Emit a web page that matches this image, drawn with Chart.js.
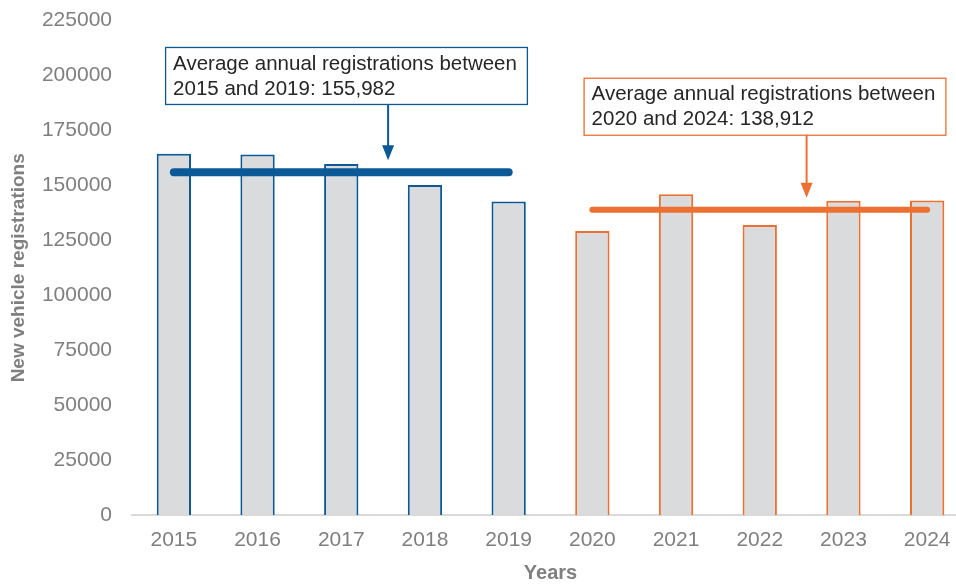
<!DOCTYPE html>
<html lang="en">
<head>
<meta charset="UTF-8">
<title>New vehicle registrations</title>
<style>
html, body { margin:0; padding:0; background:#fff; overflow:hidden; }
#wrap { width:970px; height:597px; margin-top:-12px; }
</style>
</head>
<body>
<div id="wrap"><canvas id="chart"></canvas></div>

<script src="https://cdn.jsdelivr.net/npm/chart.js"></script>
<script>
// data
const years = ['2015','2016','2017','2018','2019','2020','2021','2022','2023','2024'];
const registrations = [164400, 164100, 159700, 150200, 142700, 129300, 146000, 132000, 143000, 143100];
const avgFirst = [155982, 155982, 155982, 155982, 155982, null, null, null, null, null];
const avgSecond = [null, null, null, null, null, 138912, 138912, 138912, 138912, 138912];
const yTicks = [0, 25000, 50000, 75000, 100000, 125000, 150000, 175000, 200000, 225000];
const notes = [
  { lines: ['Average annual registrations between', '2015 and 2019: 155,982'], from: 2, to: 3, top: 213000, avg: 155982 },
  { lines: ['Average annual registrations between', '2020 and 2024: 138,912'], from: 7, to: 8, top: 199000, avg: 138912 }
];

const BLUE = '#0b5a97';
const ORANGE = '#ec7031';
const GREY = '#7f7f7f';
const FONT = '"Liberation Sans", Arial, sans-serif';

// call-out boxes with arrows
const callouts = {
  id: 'callouts',
  afterDatasetsDraw(chart) {
    const ctx = chart.ctx, x = chart.scales.x, y = chart.scales.y;
    notes.forEach((n, k) => {
      const col = k === 0 ? BLUE : ORANGE;
      const ax = (x.getPixelForValue(n.from) + x.getPixelForValue(n.to)) / 2 + 5;
      const top = y.getPixelForValue(n.top);
      ctx.save();
      ctx.font = '20.5px ' + FONT;
      const w = Math.max(...n.lines.map(l => ctx.measureText(l).width)) + 18;
      const h = 57;
      const left = ax - 223;
      ctx.fillStyle = '#fff';
      ctx.fillRect(left, top, w, h);
      ctx.strokeStyle = col;
      ctx.lineWidth = 1.3;
      ctx.strokeRect(left + 0.5, top + 0.5, w, h);
      ctx.fillStyle = '#262626';
      ctx.textBaseline = 'middle';
      ctx.fillText(n.lines[0], left + 8, top + 17);
      ctx.fillText(n.lines[1], left + 8, top + 42);
      // arrow
      const tip = y.getPixelForValue(n.avg) - 12;
      ctx.strokeStyle = col;
      ctx.fillStyle = col;
      ctx.lineWidth = 2;
      ctx.beginPath();
      ctx.moveTo(ax, top + h);
      ctx.lineTo(ax, tip - 12);
      ctx.stroke();
      ctx.beginPath();
      ctx.moveTo(ax - 6, tip - 15);
      ctx.lineTo(ax + 6, tip - 15);
      ctx.lineTo(ax, tip);
      ctx.closePath();
      ctx.fill();
      ctx.restore();
    });
  }
};

new Chart(document.getElementById('chart'), {
  type: 'bar',
  data: {
    labels: years,
    datasets: [
      {
        type: 'line', data: avgFirst, borderColor: BLUE, borderWidth: 8,
        borderCapStyle: 'round', pointRadius: 0, order: 1, spanGaps: false
      },
      {
        type: 'line', data: avgSecond, borderColor: ORANGE, borderWidth: 6,
        borderCapStyle: 'round', pointRadius: 0, order: 1, spanGaps: false
      },
      {
        data: registrations,
        backgroundColor: '#dadbdd',
        borderColor: years.map((_, i) => i < 5 ? BLUE : ORANGE),
        borderWidth: 2,
        barPercentage: 0.41,
        categoryPercentage: 1,
        order: 2
      }
    ]
  },
  plugins: [callouts],
  options: {
    responsive: true,
    maintainAspectRatio: false,
    animation: false,
    layout: { padding: { top: 5, right: 1, left: 0, bottom: 0 } },
    plugins: { legend: { display: false }, tooltip: { enabled: false } },
    scales: {
      x: {
        afterFit: s => { s.height = 70; },
        grid: { display: false, drawTicks: false },
        border: { color: '#d9d9d9', width: 2 },
        ticks: { color: GREY, font: { family: FONT, size: 21 }, padding: 13 },
        title: { display: true, text: 'Years', color: GREY, font: { family: FONT, size: 20, weight: 'bold' }, padding: { top: 0, bottom: 0 } }
      },
      y: {
        min: 0, max: 225000,
        afterBuildTicks: s => { s.ticks = yTicks.map(v => ({ value: v })); },
        afterFit: s => { s.width = 132; },
        grid: { display: false, drawTicks: false },
        border: { display: false },
        ticks: { color: GREY, font: { family: FONT, size: 21 }, padding: 20, callback: v => String(v) },
        title: { display: true, text: 'New vehicle registrations', color: GREY, font: { family: FONT, size: 19, weight: 'bold' }, padding: { top: 7, bottom: 0 } }
      }
    }
  }
});
</script>
</body>
</html>
